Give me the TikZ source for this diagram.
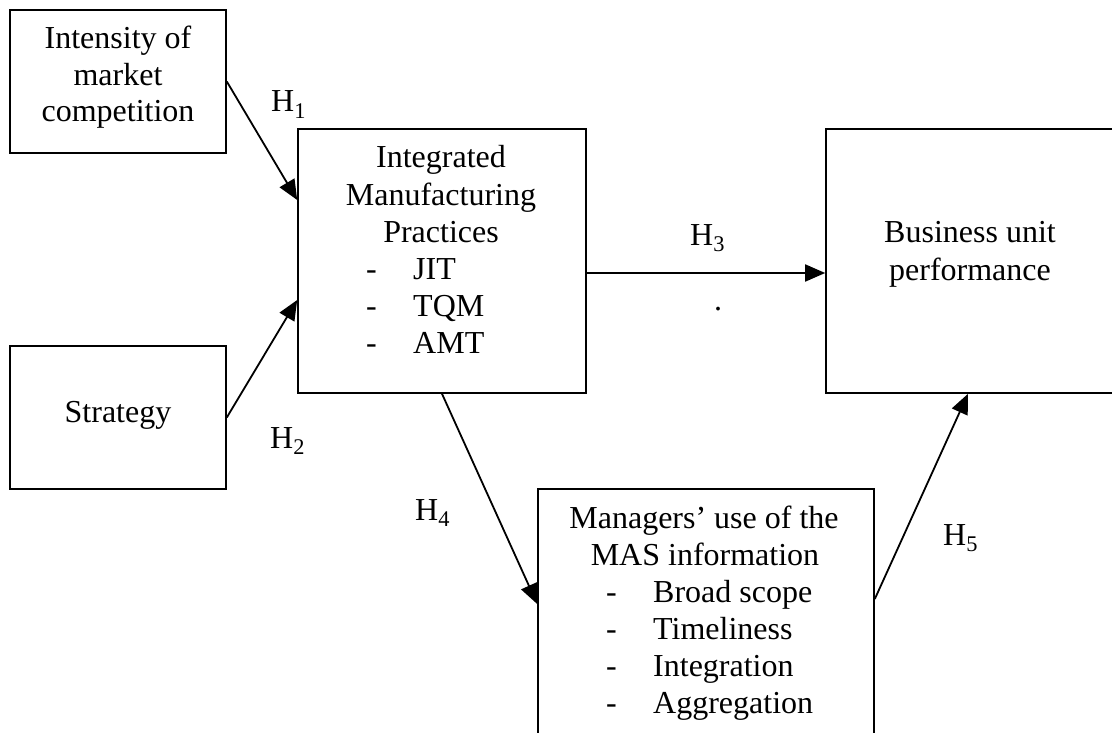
\documentclass[tikz,border=0pt]{standalone}
\usepackage{fontspec}
\setmainfont{Liberation Serif}
\usetikzlibrary{arrows.meta}
\begin{document}
\begin{tikzpicture}[x=1pt,y=-1pt,
  box/.style={draw, line width=1.6pt, rectangle, inner sep=0pt},
  txt/.style={anchor=base, inner sep=0pt, font=\fontsize{32}{37}\selectfont},
  lbl/.style={anchor=base west, inner sep=0pt, font=\fontsize{32}{37}\selectfont},
  conn/.style={line width=1.8pt, -{Triangle[length=20pt,width=17pt]}}]
\useasboundingbox (0,0) rectangle (1112,733);
\clip (0,0) rectangle (1112,733);
\fill[white] (0,0) rectangle (1112,733);

% boxes
\node[box, minimum width=216pt, minimum height=143pt] (comp) at (118,81.5) {};
\node[box, minimum width=216pt, minimum height=143pt] (strat) at (118,417.5) {};
\node[box, minimum width=288pt, minimum height=264pt] (imp) at (442,261) {};
\node[box, minimum width=292pt, minimum height=264pt] (bup) at (972,261) {};
\node[box, minimum width=336pt, minimum height=256pt] (mas) at (706,617) {};

% box texts
\node[txt] (c1) at (118,49) {Intensity of};
\node[txt] (c2) at (118,85.5) {market};
\node[txt] (c3) at (118,122) {competition};

\node[txt] (s1) at (118,422) {Strategy};

\node[txt] (i1) at (441,168) {Integrated};
\node[txt] (i2) at (441,205) {Manufacturing};
\node[txt] (i3) at (441,242) {Practices};
\node[lbl] (i4d) at (366,279) {-};
\node[lbl] (i4) at (413,279) {JIT};
\node[lbl] (i5d) at (366,316) {-};
\node[lbl] (i5) at (413,316) {TQM};
\node[lbl] (i6d) at (366,353) {-};
\node[lbl] (i6) at (413,353) {AMT};

\node[txt] (b1) at (970,243) {Business unit};
\node[txt] (b2) at (970,280) {performance};

\node[txt] (m1) at (704,528) {Managers’ use of the};
\node[txt] (m2) at (705,565) {MAS information};
\node[lbl] (m3d) at (606,602) {-};
\node[lbl] (m3) at (653,602) {Broad scope};
\node[lbl] (m4d) at (606,639) {-};
\node[lbl] (m4) at (653,639) {Timeliness};
\node[lbl] (m5d) at (606,676) {-};
\node[lbl] (m5) at (653,676) {Integration};
\node[lbl] (m6d) at (606,713) {-};
\node[lbl] (m6) at (653,713) {Aggregation};

% stray dot
\node[txt] (dot) at (718,310) {.};

% connectors
\draw[conn] (comp.east) -- ([yshift=61pt]imp.west);
\draw[conn] (strat.east) -- ([yshift=-39pt]imp.west);
\draw[conn] ([yshift=-12pt]imp.east) -- ([yshift=-12pt]bup.west);
\draw[conn] (imp.south) -- ([yshift=13pt]mas.west);
\draw[conn] ([yshift=18pt]mas.east) -- ([xshift=-4pt]bup.south);

% hypothesis labels
\node[lbl] (h1) at (271,112) {H\textsubscript{1}};
\node[lbl] (h2) at (270,448) {H\textsubscript{2}};
\node[lbl] (h3) at (690,245) {H\textsubscript{3}};
\node[lbl] (h4) at (415,520) {H\textsubscript{4}};
\node[lbl] (h5) at (943,545) {H\textsubscript{5}};
\end{tikzpicture}
\end{document}
